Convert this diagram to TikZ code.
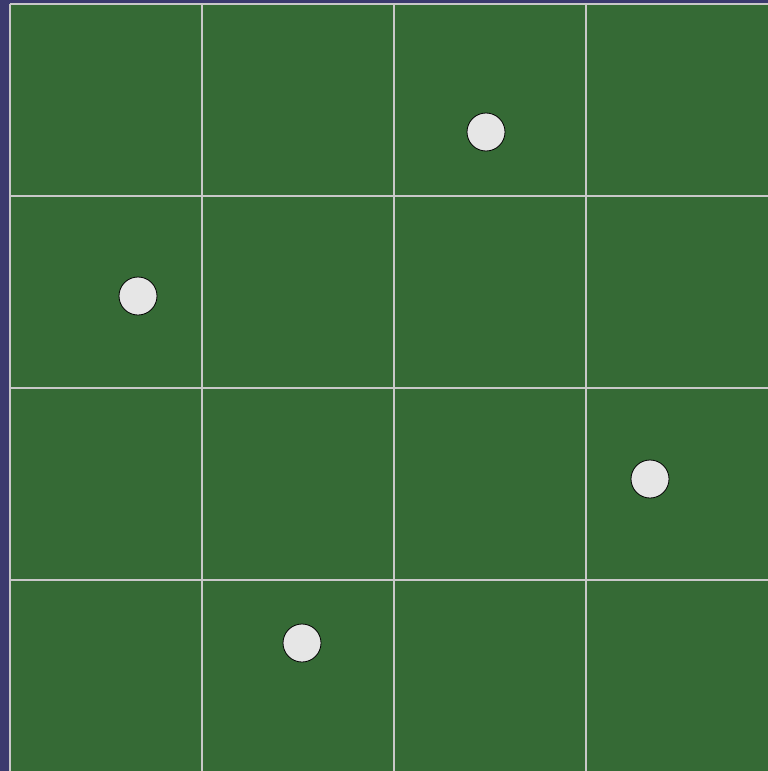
\documentclass[tikz,border=0pt]{standalone}
\definecolor{bgblue}{HTML}{3B3A6E}
\definecolor{board}{HTML}{356A35}
\definecolor{gridc}{HTML}{C8C8C8}
\definecolor{stone}{HTML}{E6E6E6}
\begin{document}
\begin{tikzpicture}[x=1pt,y=-1pt,
  gridline/.style={draw=gridc,line width=1.2pt},
  stonenode/.style={circle,draw=black,fill=stone,line width=0.8pt,minimum size=38pt,inner sep=0pt}]
\fill[bgblue] (0,0) rectangle (768,771);
\useasboundingbox (0,0) rectangle (768,771);
\fill[board] (10,4) rectangle (768,771);
\foreach \v in {10,202,394,586} {
  \draw[gridline] (\v,4) -- (\v,771);
}
\foreach \v in {4,196,388,580} {
  \draw[gridline] (10,\v) -- (768,\v);
}
\node[stonenode] (s1) at (486,132) {};
\node[stonenode] (s2) at (138,296) {};
\node[stonenode] (s3) at (650,479) {};
\node[stonenode] (s4) at (302,643) {};
\end{tikzpicture}
\end{document}
